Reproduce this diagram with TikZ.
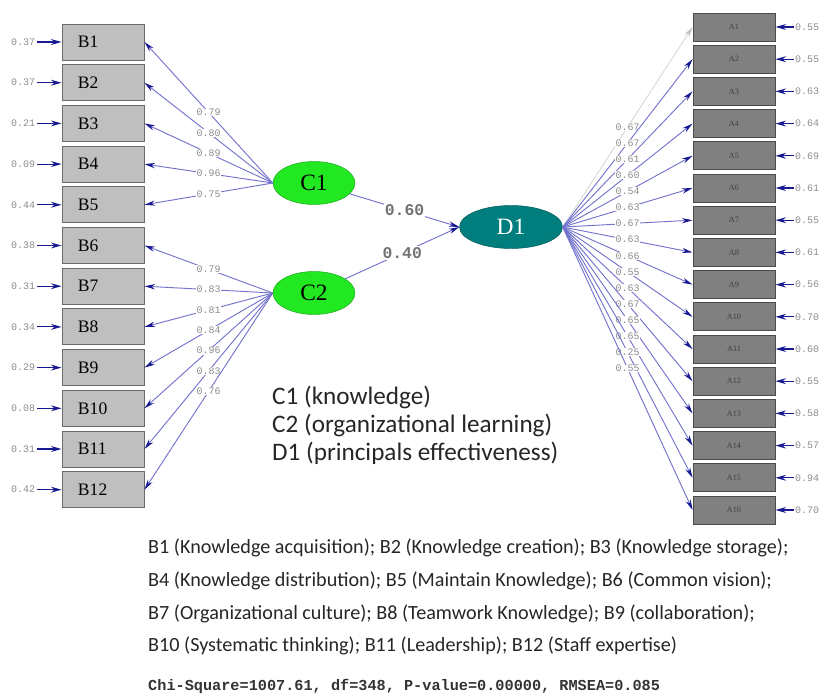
\documentclass[tikz,border=0pt]{standalone}
\usepackage{fontspec}
\setmainfont{Liberation Serif}
\newfontfamily\calibrifont{Carlito}
\newfontfamily\lisrelfont{Liberation Mono}
\usetikzlibrary{arrows.meta,positioning,shapes.geometric}
\definecolor{pathblue}{RGB}{115,115,205}
\definecolor{tipblue}{RGB}{25,25,145}
\definecolor{latgreen}{RGB}{34,232,34}
\definecolor{latteal}{RGB}{0,125,125}
\colorlet{pathcol}{pathblue}
\colorlet{tipcol}{tipblue}

\begin{document}
\begin{tikzpicture}[x=0.03cm,y=-0.03cm]
    \tikzset{
      leftbox/.style={rectangle,draw=black!58,fill=black!25,thick,minimum width=2.46cm,minimum height=1.08cm,inner xsep=0.48cm,text width=1.5cm,align=left,font=\fontsize{15}{17}\selectfont},
      rightbox/.style={rectangle,draw=black!70,fill=black!50,thick,minimum width=2.46cm,minimum height=0.84cm,text=black!75,font=\fontsize{7}{8}\selectfont},
      latentnode/.style={ellipse,draw=#1!70!black,fill=#1,inner sep=0pt,minimum height=1.29cm,font=\fontsize{20}{22}\selectfont},
      errlabel/.style={inner sep=1pt,text=black!45,font=\lisrelfont\fontsize{8.5}{9}\selectfont},
      loadlabel/.style={fill=white,inner sep=0.5pt,text=black!45,font=\lisrelfont\fontsize{8.5}{9}\selectfont},
      pathlabel/.style={fill=white,inner sep=1pt,text=black!55,font=\lisrelfont\bfseries\fontsize{14}{16}\selectfont},
      errarrow/.style={-{Stealth[length=9pt,width=5pt]},draw=tipblue,line width=1pt},
      loadarrow/.style={-{Stealth[length=9pt,width=4.5pt,color=tipcol]},draw=pathcol,line width=0.8pt},
      legendtext/.style={inner sep=0pt,align=left,text=black!85,font=\calibrifont\fontsize{21.5}{23.8}\selectfont}
    }
    \useasboundingbox (0,0) rectangle (829,697);

    % latent variables
    \node[latentnode=latgreen,minimum width=2.46cm](C1) at (314,183){C1};
    \node[latentnode=latgreen,minimum width=2.46cm](C2) at (314,293){C2};
    \node[latentnode=latteal,minimum width=3.09cm,text=white](D1) at (511,227){D1};

    \draw[loadarrow](C1) -- node[pathlabel,pos=0.5]{0.60} (D1.west);
    \draw[loadarrow](C2) -- node[pathlabel,pos=0.5]{0.40} (D1.west);

    % indicators of C1 and C2
    \foreach \i/\e/\l/\c in {1/0.37/0.79/C1,2/0.37/0.80/C1,3/0.21/0.89/C1,4/0.09/0.96/C1,5/0.44/0.75/C1,
      6/0.38/0.79/C2,7/0.31/0.83/C2,8/0.34/0.81/C2,9/0.29/0.84/C2,10/0.08/0.96/C2,11/0.31/0.83/C2,12/0.42/0.76/C2}{
      \node[leftbox](B\i) at (103,{42+40.7*(\i-1)}){B\i};
      \node[errlabel,left=0.75cm of B\i](eB\i){\e};
      \draw[errarrow](eB\i) -- (B\i);
      \draw[loadarrow](\c.west) -- node[loadlabel]{\l} (B\i.east);
    }

    % indicators of D1
    \foreach \i/\e/\l in {1/0.55/0.67,2/0.55/0.67,3/0.63/0.61,4/0.64/0.60,5/0.69/0.54,6/0.61/0.63,7/0.55/0.67,8/0.61/0.63,
      9/0.56/0.66,10/0.70/0.55,11/0.60/0.63,12/0.55/0.67,13/0.58/0.65,14/0.57/0.65,15/0.94/0.25,16/0.70/0.55}{
      \ifnum\i=1 \colorlet{pathcol}{black!15}\colorlet{tipcol}{black!25}\fi
      \node[rightbox](A\i) at (734,{27+32.2*(\i-1)}){A\i};
      \node[errlabel,right=0.55cm of A\i](eA\i){\e};
      \draw[errarrow](eA\i) -- (A\i);
      \draw[loadarrow](D1.east) -- node[loadlabel]{\l} (A\i.west);
    }

    \node[legendtext,anchor=north west](legend) at (272,386){C1 (knowledge)\\C2 (organizational learning)\\D1 (principals effectiveness)};
    \node[legendtext,anchor=north west,font=\calibrifont\fontsize{17.2}{27.8}\selectfont](itemkey) at (148,539){B1 (Knowledge acquisition); B2 (Knowledge creation); B3 (Knowledge storage);\\B4 (Knowledge distribution); B5 (Maintain Knowledge); B6 (Common vision);\\B7 (Organizational culture); B8 (Teamwork Knowledge); B9 (collaboration);\\B10 (Systematic thinking); B11 (Leadership); B12 (Staff expertise)};
    \node[anchor=west,inner sep=0pt,text=black!80,font=\lisrelfont\bfseries\fontsize{13}{14}\selectfont](fit) at (148,686){Chi-Square=1007.61, df=348, P-value=0.00000, RMSEA=0.085};

  \end{tikzpicture}
\end{document}
